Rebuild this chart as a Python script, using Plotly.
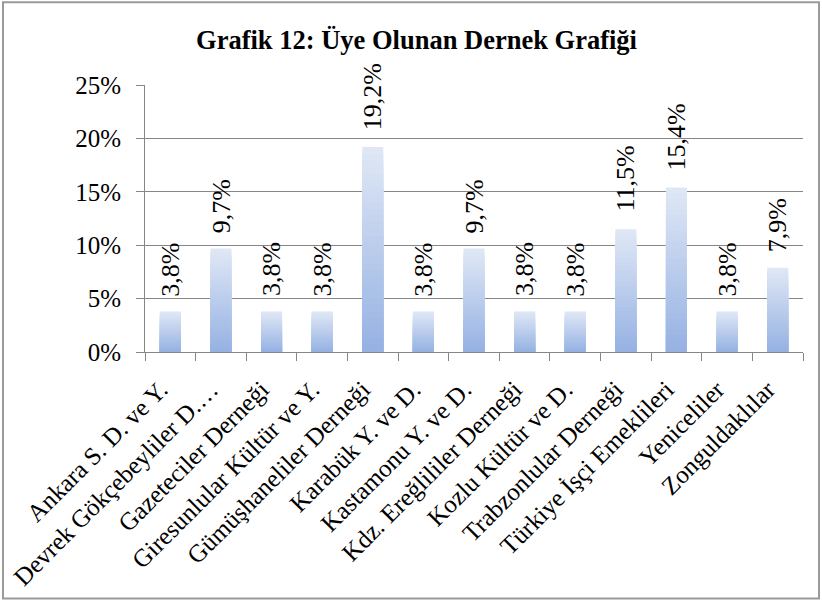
import plotly.graph_objects as go

categories = ["Ankara S. D. ve Y.", "Devrek Gökçebeyliler D.…", "Gazeteciler Derneği",
              "Giresunlular Kültür ve Y.", "Gümüşhaneliler Derneği", "Karabük Y. ve D.",
              "Kastamonu Y. ve D.", "Kdz. Ereğlililer Derneği", "Kozlu Kültür ve D.",
              "Trabzonlular Derneği", "Türkiye İşçi Emeklileri", "Yeniceliler", "Zonguldaklılar"]
values = [3.8, 9.7, 3.8, 3.8, 19.2, 3.8, 9.7, 3.8, 3.8, 11.5, 15.4, 3.8, 7.9]
labels = ["3,8%", "9,7%", "3,8%", "3,8%", "19,2%", "3,8%", "9,7%", "3,8%", "3,8%",
          "11,5%", "15,4%", "3,8%", "7,9%"]
y_ticks = [0, 5, 10, 15, 20, 25]
y_tick_text = ["0%", "5%", "10%", "15%", "20%", "25%"]

top_rgb = (223, 231, 245)
bot_rgb = (150, 178, 227)
N = 30

fig = go.Figure()
for k in range(N):
    frac = (N - k) / N
    t = k / (N - 1)
    c = tuple(round(top_rgb[i] + (bot_rgb[i] - top_rgb[i]) * t) for i in range(3))
    fig.add_trace(go.Bar(
        x=categories, y=[v * frac for v in values], width=0.415,
        marker=dict(color="rgb(%d,%d,%d)" % c, line=dict(width=0)),
        hoverinfo="skip", showlegend=False))

annotations = [dict(x=cat, y=val, xref="x", yref="y", text=lab, showarrow=False,
                    textangle=-90, xanchor="center", yanchor="middle",
                    yshift=8.5 * len(lab) + 8,
                    font=dict(family="Liberation Serif", size=26, color="black"))
               for cat, val, lab in zip(categories, values, labels)]

fig.update_layout(
    width=822, height=602, barmode="overlay",
    margin=dict(l=145, r=19, t=85, b=250, autoexpand=False),
    paper_bgcolor="white", plot_bgcolor="white",
    title=dict(text="<b>Grafik 12: Üye Olunan Dernek Grafiği</b>", x=(197 + 636) / 2 / 822,
               xanchor="center", xref="container",
               y=1 - 40 / 602, yanchor="middle",
               font=dict(family="Liberation Serif", size=26.5, color="black")),
    font=dict(family="Liberation Serif", color="black"),
    xaxis=dict(type="category", tickangle=-45, tickson="boundaries", ticks="outside",
               ticklen=8, tickcolor="#868686", showline=True, linecolor="#868686",
               linewidth=1, showgrid=False, automargin=False,
               ticklabelstandoff=12, ticklabelshift=-10,
               tickfont=dict(family="Liberation Serif", size=25, color="black")),
    yaxis=dict(range=[0, 25], tickvals=y_ticks, ticktext=y_tick_text, ticks="outside",
               ticklen=8, tickcolor="#868686", showline=True, linecolor="#868686",
               showgrid=True, gridcolor="#868686", gridwidth=1, zeroline=False,
               automargin=False, ticklabelstandoff=10,
               tickfont=dict(family="Liberation Serif", size=25, color="black")),
    annotations=annotations,
    shapes=[dict(type="rect", xref="paper", yref="paper",
                 x0=(3 - 145) / 658, x1=(819 - 145) / 658,
                 y0=(352 - 598) / 266.5, y1=(352 - 3) / 266.5,
                 line=dict(color="#9a9a9a", width=2), fillcolor="rgba(0,0,0,0)", layer="below")],
)

fig.write_html("out.html", config={"displayModeBar": False},
               post_script="document.body.style.margin='0';document.body.style.overflow='hidden';")
